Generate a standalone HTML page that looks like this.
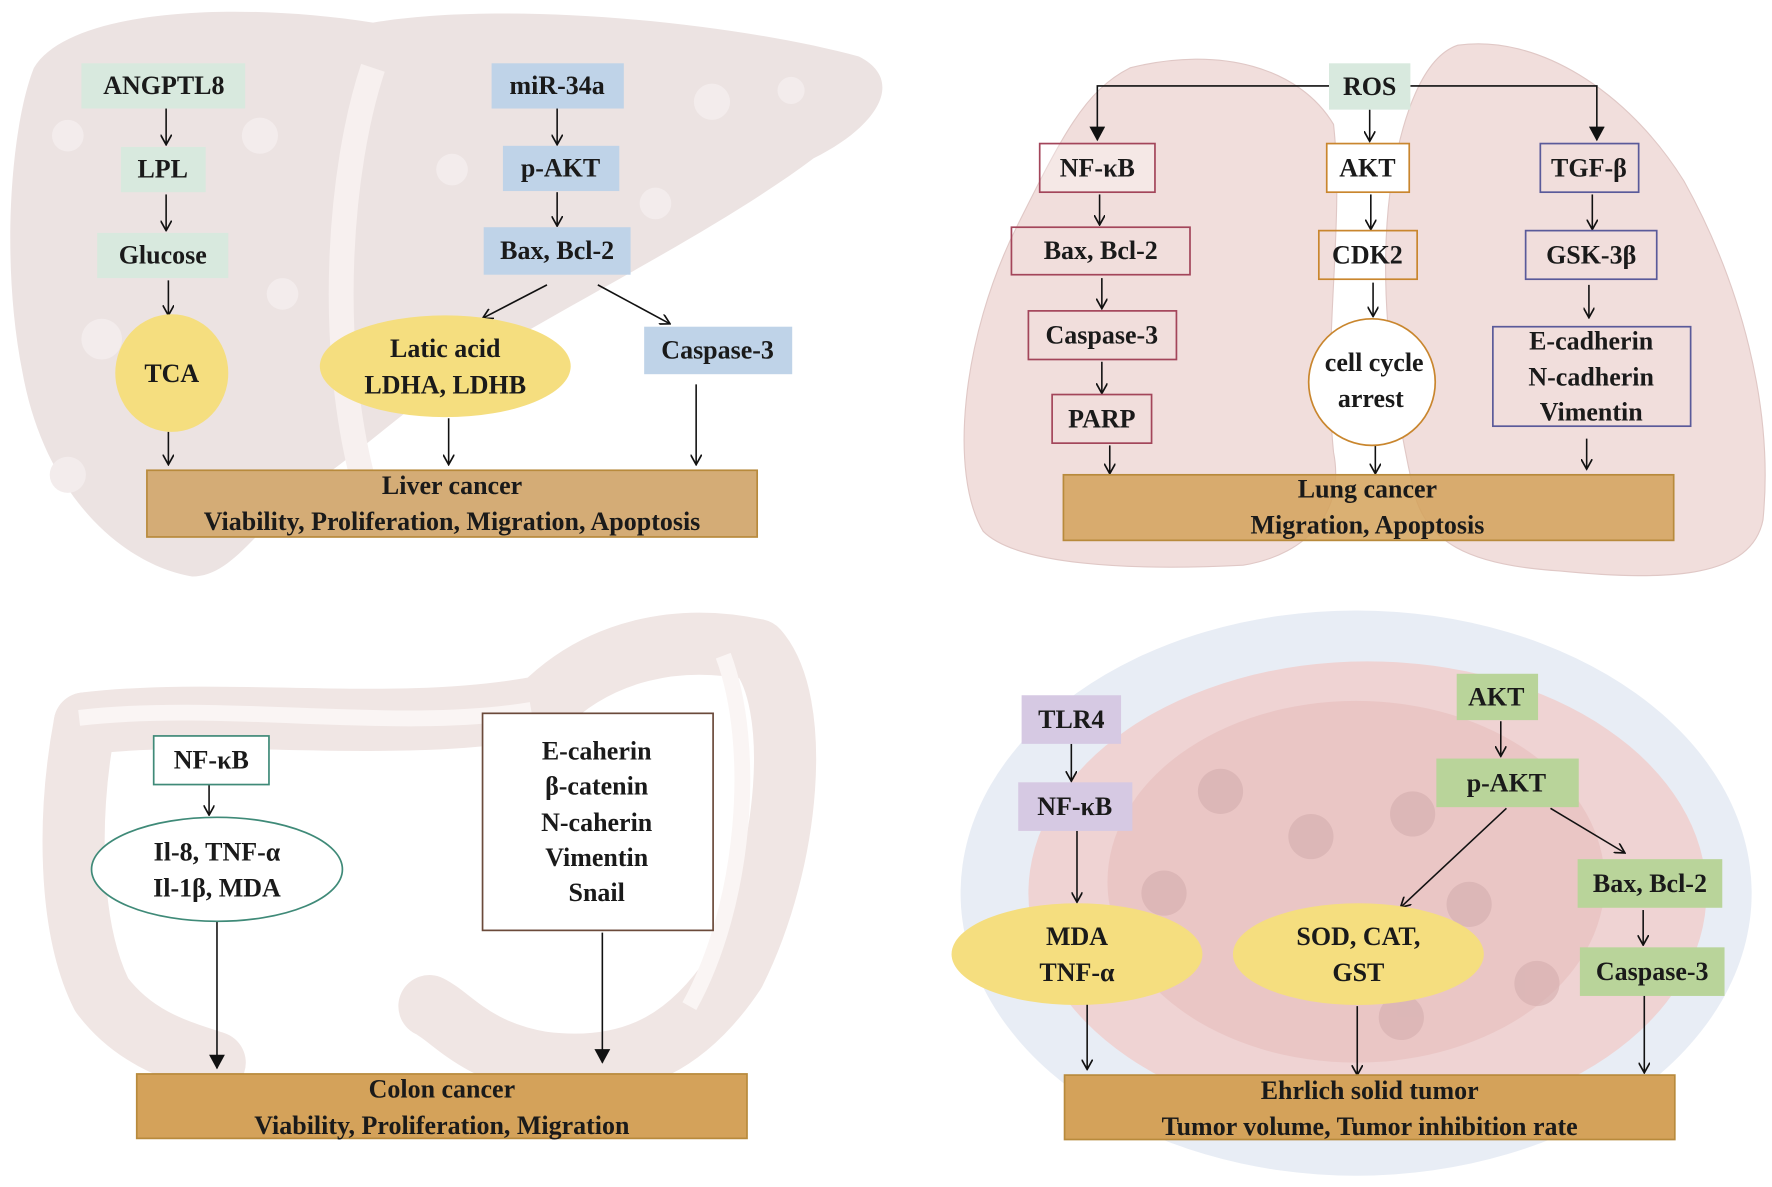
<!DOCTYPE html>
<html><head><meta charset="utf-8"><style>
html,body{margin:0;padding:0;background:#fff}
svg{display:block}
text{font-family:"Liberation Serif",serif;font-weight:bold;font-size:23px;fill:#1a1a1a;text-anchor:middle}
</style></head><body>
<svg width="1772" height="1187" viewBox="0 0 1568 1050" preserveAspectRatio="none" xmlns="http://www.w3.org/2000/svg">
<defs>
<marker id="a" markerWidth="10" markerHeight="10" refX="8" refY="5" orient="auto" markerUnits="userSpaceOnUse"><path d="M0,0 L9,5 L0,10" fill="none" stroke="#111" stroke-width="1.5"/></marker>
<marker id="b" markerWidth="14" markerHeight="14" refX="12" refY="7" orient="auto" markerUnits="userSpaceOnUse"><path d="M0,0 L13,7 L0,14 Z" fill="#111"/></marker>
</defs>
<!-- liver -->
<path d="M30,60 C60,10 200,0 330,20 C450,0 650,20 760,50 C800,70 780,110 720,140 C640,200 520,260 420,320 C360,360 320,400 260,440 C220,480 200,510 170,510 C110,500 40,440 20,330 C0,230 10,110 30,60Z" fill="#ece3e2"/>
<g fill="#f3ecec"><circle cx="60" cy="120" r="14"/><circle cx="90" cy="300" r="18"/><circle cx="230" cy="120" r="16"/><circle cx="250" cy="260" r="14"/><circle cx="60" cy="420" r="16"/><circle cx="630" cy="90" r="16"/><circle cx="400" cy="150" r="14"/><circle cx="580" cy="180" r="14"/><circle cx="700" cy="80" r="12"/></g>
<path d="M330,60 C300,150 290,300 320,420" stroke="#f7f0ef" stroke-width="22" fill="none"/>
<!-- lungs -->
<path d="M1000,60 C1080,40 1150,60 1180,110 C1190,200 1170,300 1180,400 C1190,450 1160,490 1100,500 C1000,505 900,500 870,470 C840,420 850,300 900,200 C940,120 960,80 1000,60Z" fill="#f1dedc" stroke="#e0c8c6"/>
<path d="M1290,40 C1360,30 1440,80 1490,160 C1540,250 1570,360 1560,460 C1550,510 1480,515 1380,505 C1300,500 1260,480 1250,430 C1230,340 1220,250 1230,170 C1240,100 1260,50 1290,40Z" fill="#f1dedc" stroke="#e0c8c6"/>
<!-- colon -->
<g fill="none" stroke="#f0e6e4" stroke-linecap="round" stroke-linejoin="round">
<path d="M75,640 C200,625 350,650 480,625 C530,575 600,560 670,575 C710,620 700,760 650,860 C610,920 560,950 480,940 C420,930 400,900 380,890" stroke-width="55"/>
<path d="M75,640 C60,720 60,820 90,880 C120,920 160,930 190,940" stroke-width="55"/>
</g>
<path d="M70,635 C200,620 350,648 470,628 M640,580 C670,660 660,800 610,890" stroke="#faf5f4" stroke-width="14" fill="none"/>
<!-- tumor -->
<ellipse cx="1200" cy="790" rx="350" ry="250" fill="#e8edf5"/>
<ellipse cx="1210" cy="790" rx="300" ry="205" fill="#efd3d3"/>
<ellipse cx="1200" cy="780" rx="220" ry="160" fill="#e8c0bf" opacity="0.7"/>
<g fill="#d4aeae" opacity="0.6"><circle cx="1080" cy="700" r="20"/><circle cx="1160" cy="740" r="20"/><circle cx="1250" cy="720" r="20"/><circle cx="1030" cy="790" r="20"/><circle cx="1300" cy="800" r="20"/><circle cx="1360" cy="870" r="20"/><circle cx="1240" cy="900" r="20"/></g>

<!-- liver diagram -->
<g stroke="#111" stroke-width="1.4" fill="none" marker-end="url(#a)">
<line x1="147" y1="96" x2="147" y2="127"/><line x1="147" y1="172" x2="147" y2="203"/><line x1="149" y1="248" x2="149" y2="278"/>
<line x1="493" y1="96" x2="493" y2="127"/><line x1="493" y1="170" x2="493" y2="199"/>
<line x1="484" y1="252" x2="428" y2="281"/><line x1="529" y1="252" x2="592" y2="286"/>
<line x1="149" y1="382" x2="149" y2="410"/><line x1="397" y1="370" x2="397" y2="410"/><line x1="616" y1="340" x2="616" y2="410"/>
</g>
<rect x="72" y="56" width="145" height="40" fill="#d8e9de"/><text x="145" y="83">ANGPTL8</text>
<rect x="107" y="130" width="75" height="40" fill="#d8e9de"/><text x="144" y="157">LPL</text>
<rect x="86" y="206" width="116" height="40" fill="#d8e9de"/><text x="144" y="233">Glucose</text>
<ellipse cx="152" cy="330" rx="50" ry="52" fill="#f5de7f"/><text x="152" y="338">TCA</text>
<rect x="435" y="56" width="117" height="40" fill="#bfd3e8"/><text x="493" y="83">miR-34a</text>
<rect x="445" y="129" width="103" height="40" fill="#bfd3e8"/><text x="496" y="156">p-AKT</text>
<rect x="428" y="201" width="130" height="42" fill="#bfd3e8"/><text x="493" y="229">Bax, Bcl-2</text>
<ellipse cx="394" cy="324" rx="111" ry="45" fill="#f5de7f"/><text x="394" y="316">Latic acid</text><text x="394" y="348">LDHA, LDHB</text>
<rect x="570" y="289" width="131" height="42" fill="#bfd3e8"/><text x="635" y="317">Caspase-3</text>
<rect x="130" y="416" width="540" height="59" fill="#d4ac76" stroke="#b88a3c" stroke-width="1.5"/><text x="400" y="437">Liver cancer</text><text x="400" y="469">Viability, Proliferation, Migration, Apoptosis</text>

<!-- lung diagram -->
<g stroke="#111" stroke-width="1.4" fill="none">
<polyline points="1176,76 971,76 971,124" marker-end="url(#b)"/>
<polyline points="1248,76 1413,76 1413,124" marker-end="url(#b)"/>
<g marker-end="url(#a)">
<line x1="1212" y1="97" x2="1212" y2="124"/><line x1="973" y1="172" x2="973" y2="198"/><line x1="975" y1="246" x2="975" y2="272"/><line x1="975" y1="320" x2="975" y2="347"/><line x1="982" y1="394" x2="982" y2="418"/>
<line x1="1213" y1="172" x2="1213" y2="202"/><line x1="1215" y1="250" x2="1215" y2="279"/><line x1="1217" y1="391" x2="1217" y2="418"/>
<line x1="1409" y1="172" x2="1409" y2="202"/><line x1="1406" y1="252" x2="1406" y2="280"/><line x1="1404" y1="388" x2="1404" y2="414"/>
</g></g>
<rect x="1176" y="56" width="72" height="41" fill="#d8e9de"/><text x="1212" y="84">ROS</text>
<rect x="920" y="127" width="102" height="43" fill="#fff" fill-opacity="0.3" stroke="#a3455a" stroke-width="1.5"/><text x="971" y="156">NF-κB</text>
<rect x="1174" y="127" width="73" height="43" fill="#fff" stroke="#c9862e" stroke-width="1.5"/><text x="1210" y="156">AKT</text>
<rect x="1363" y="127" width="87" height="43" fill="none" stroke="#5a5a9a" stroke-width="1.5"/><text x="1406" y="156">TGF-β</text>
<rect x="895" y="201" width="158" height="42" fill="none" stroke="#a3455a" stroke-width="1.5"/><text x="974" y="229">Bax, Bcl-2</text>
<rect x="1167" y="204" width="87" height="43" fill="none" stroke="#c9862e" stroke-width="1.5"/><text x="1210" y="233">CDK2</text>
<rect x="1350" y="204" width="116" height="43" fill="none" stroke="#5a5a9a" stroke-width="1.5"/><text x="1408" y="233">GSK-3β</text>
<rect x="910" y="275" width="131" height="43" fill="none" stroke="#a3455a" stroke-width="1.5"/><text x="975" y="304">Caspase-3</text>
<ellipse cx="1214" cy="338" rx="56" ry="56" fill="#fff" stroke="#c9862e" stroke-width="1.5"/><text x="1216" y="328">cell cycle</text><text x="1213" y="360">arrest</text>
<rect x="1321" y="289" width="175" height="88" fill="none" stroke="#5a5a9a" stroke-width="1.5"/><text x="1408" y="309">E-cadherin</text><text x="1408" y="341">N-cadherin</text><text x="1408" y="372">Vimentin</text>
<rect x="931" y="349" width="88" height="43" fill="none" stroke="#a3455a" stroke-width="1.5"/><text x="975" y="378">PARP</text>
<rect x="941" y="420" width="540" height="58" fill="#d4a25a" fill-opacity="0.85" stroke="#b88a3c" stroke-width="1.5"/><text x="1210" y="440">Lung cancer</text><text x="1210" y="472">Migration, Apoptosis</text>

<!-- colon diagram -->
<g stroke="#111" stroke-width="1.4" fill="none">
<line x1="185" y1="694" x2="185" y2="720" marker-end="url(#a)"/>
<line x1="192" y1="815" x2="192" y2="945" marker-end="url(#b)"/>
<line x1="533" y1="825" x2="533" y2="940" marker-end="url(#b)"/>
</g>
<rect x="136" y="651" width="102" height="43" fill="#fff" stroke="#3f8a78" stroke-width="1.5"/><text x="187" y="680">NF-κB</text>
<ellipse cx="192" cy="769" rx="111" ry="46" fill="#fff" stroke="#3f8a78" stroke-width="1.5"/><text x="192" y="761">Il-8, TNF-α</text><text x="192" y="793">Il-1β, MDA</text>
<rect x="427" y="631" width="204" height="192" fill="#fff" stroke="#6b4a3a" stroke-width="1.5"/>
<text x="528" y="672">E-caherin</text><text x="528" y="703">β-catenin</text><text x="528" y="735">N-caherin</text><text x="528" y="766">Vimentin</text><text x="528" y="797">Snail</text>
<rect x="121" y="950" width="540" height="57" fill="#d4a25a" stroke="#b88a3c" stroke-width="1.5"/><text x="391" y="971">Colon cancer</text><text x="391" y="1003">Viability, Proliferation, Migration</text>

<!-- tumor diagram -->
<g stroke="#111" stroke-width="1.4" fill="none" marker-end="url(#a)">
<line x1="948" y1="658" x2="948" y2="690"/><line x1="953" y1="735" x2="953" y2="797"/>
<line x1="1328" y1="638" x2="1328" y2="668"/><line x1="1333" y1="715" x2="1240" y2="802"/><line x1="1372" y1="715" x2="1437" y2="754"/>
<line x1="1454" y1="805" x2="1454" y2="835"/>
<line x1="962" y1="888" x2="962" y2="945"/><line x1="1201" y1="890" x2="1201" y2="950"/><line x1="1455" y1="880" x2="1455" y2="948"/>
</g>
<rect x="904" y="615" width="88" height="43" fill="#d6c9e3"/><text x="948" y="644">TLR4</text>
<rect x="901" y="692" width="101" height="43" fill="#d6c9e3"/><text x="951" y="721">NF-κB</text>
<rect x="1289" y="596" width="72" height="41" fill="#b9d49a"/><text x="1324" y="624">AKT</text>
<rect x="1271" y="671" width="126" height="43" fill="#b9d49a"/><text x="1333" y="700">p-AKT</text>
<rect x="1396" y="760" width="128" height="43" fill="#b9d49a"/><text x="1460" y="789">Bax, Bcl-2</text>
<rect x="1398" y="838" width="128" height="43" fill="#b9d49a"/><text x="1462" y="867">Caspase-3</text>
<ellipse cx="953" cy="844" rx="111" ry="45" fill="#f5de7f"/><text x="953" y="836">MDA</text><text x="953" y="868">TNF-α</text>
<ellipse cx="1202" cy="844" rx="111" ry="45" fill="#f5de7f"/><text x="1202" y="836">SOD, CAT,</text><text x="1202" y="868">GST</text>
<rect x="942" y="951" width="540" height="57" fill="#d4a25a" stroke="#b88a3c" stroke-width="1.5"/><text x="1212" y="972">Ehrlich solid tumor</text><text x="1212" y="1004">Tumor volume, Tumor inhibition rate</text>
</svg>
</body></html>
